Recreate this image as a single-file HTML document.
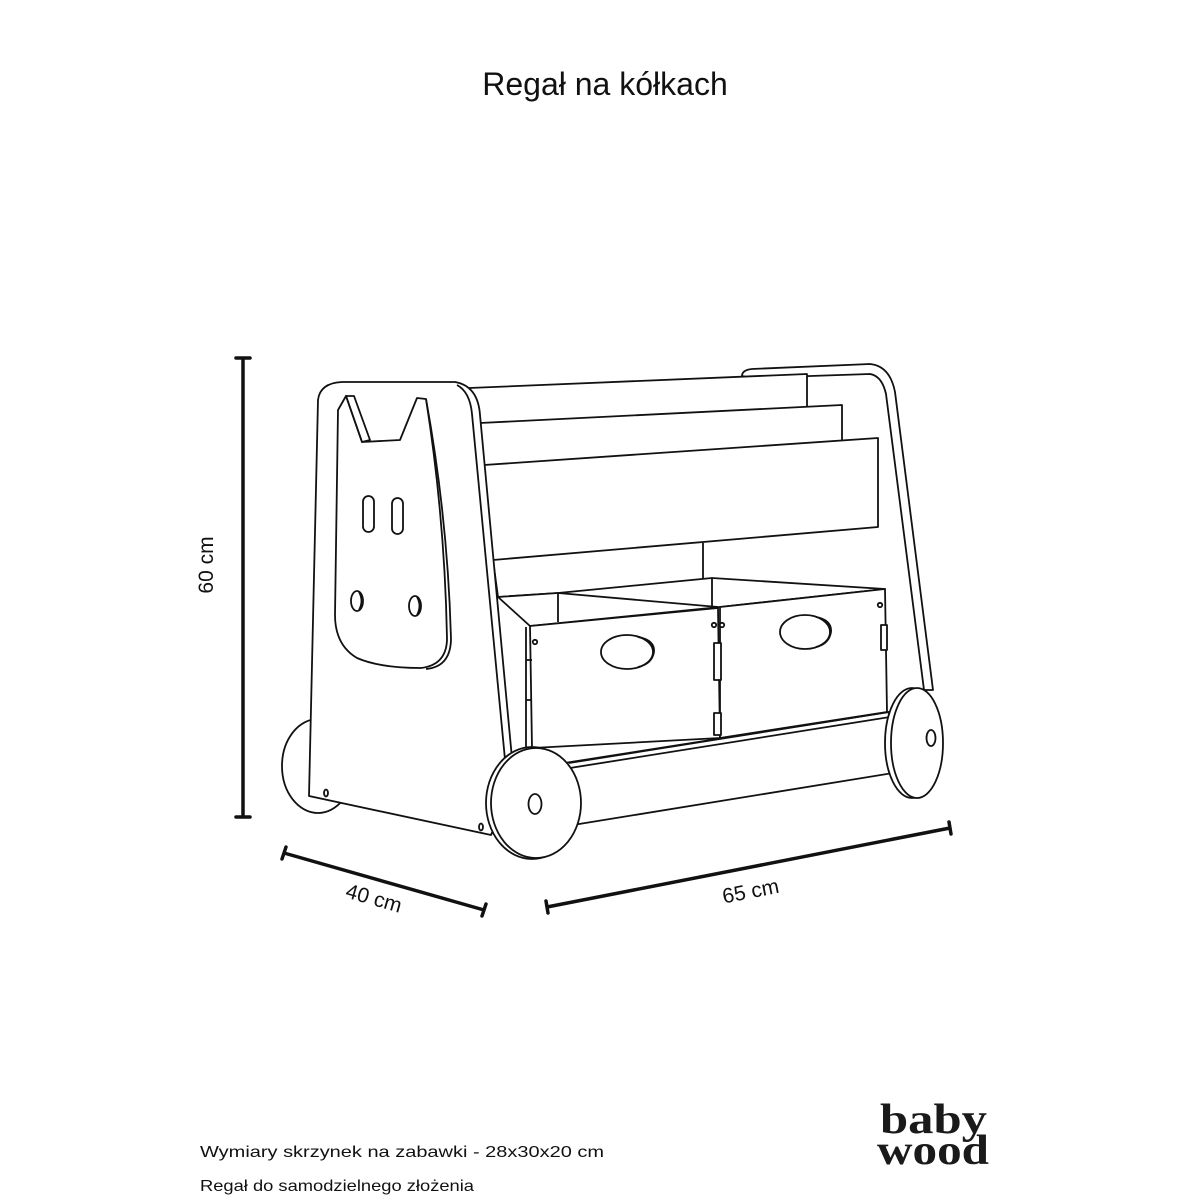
<!DOCTYPE html>
<html><head><meta charset="utf-8"><style>
html,body{margin:0;padding:0;background:#fff;}
svg{display:block;}
</style></head><body>
<svg width="1200" height="1200" viewBox="0 0 1200 1200" xmlns="http://www.w3.org/2000/svg">
<rect width="1200" height="1200" fill="#fff"/>
<text x="605" y="95" text-anchor="middle" font-family="Liberation Sans, sans-serif" font-size="32" fill="#111">Regał na kółkach</text>

<g fill="#fff" stroke="#111" stroke-width="1.8" stroke-linejoin="round">
<!-- back left wheel -->
<ellipse cx="318" cy="766" rx="36" ry="47"/>
<!-- right panel -->
<path d="M742,376 Q742,370 752,369 L870,364 Q890,366 895,392 L933,690 L924,690 L886,394 Q882,376 870,374 L752,378 Z"/>
<!-- shelves -->
<path d="M469,388 L807,374 L807,410 L475,425 Z"/>
<path d="M480,423 L842,405 L842,445 L484,466 Z"/>
<path d="M484,465 L878,438 L878,527 L493,560 Z"/>
<!-- divider back -->
<path d="M703,543 L703,580"/>
<path d="M493,560 L498,597 L558,593"/>
<!-- box tops -->
<path d="M498,597 L558,593 L712,578 L885,589 L720,607 L530,626 Z"/>
<path d="M558,593 L558,622"/>
<path d="M558,593 L718,607"/>
<path d="M712,578 L712,607"/>
<!-- box fronts -->
<path d="M530,626 L718,608 L720,738 L532,748 Z"/>
<path d="M720,607 L885,589 L887,712 L720,738 Z"/>
<ellipse cx="627" cy="652" rx="26" ry="17"/>
<path d="M638,637 Q655,640 654,652 Q652,664 638,667" fill="none"/>
<ellipse cx="805" cy="632" rx="25" ry="17"/>
<path d="M816,617 Q832,620 831,632 Q829,644 816,647" fill="none"/>
<!-- tabs -->
<path d="M526,627 L526,748 L532,748 M526,660 L532,660 M526,700 L532,700" fill="none"/>
<path d="M714,643 L714,680 L721,680 L721,643 Z"/>
<path d="M714,713 L714,735 L721,735 L721,713 Z"/>
<path d="M881,625 L881,650 L887,650 L887,625 Z"/>
<circle cx="535" cy="642" r="2.2"/><circle cx="714" cy="625" r="2.2"/><circle cx="722" cy="625" r="2.2"/><circle cx="880" cy="605" r="2.2"/>
<!-- base rail -->
<path d="M520,770 L889,712 L893,773 L573,825 Z"/>
<path d="M569,763 L889,712 M570,768 L890,717" fill="none"/>
<!-- left panel -->
<path d="M318,400 Q320,383 342,382 L455,382 Q478,386 480,415 L514,780 L491,835 L309,796 Z"/>
<path d="M457,385 Q470,392 472,414 L506,770" fill="none"/>
<!-- cat face -->
<path d="M346,396 L362,442 L400,440 L417,398 L426,399 Q445,520 447,640 Q446,665 421,668 Q380,668 357,658 Q335,645 335,615 L338,410 Z"/>
<path d="M346,396 L354,396 L370,440 L362,442 Z" fill="none"/>
<path d="M426,399 Q448,520 451,640 Q450,667 426,669" fill="none"/>
<rect x="363" y="496" width="11" height="36" rx="5.5"/>
<rect x="392" y="498" width="11" height="36" rx="5.5"/>
<ellipse cx="357" cy="601" rx="6" ry="10"/>
<path d="M359,592 Q364,601 359,610" fill="none"/>
<ellipse cx="415" cy="606" rx="6" ry="10"/>
<path d="M417,597 Q422,606 417,615" fill="none"/>
<ellipse cx="326" cy="793" rx="2" ry="3.5"/>
<ellipse cx="481" cy="827" rx="2" ry="3.5"/>
<!-- front wheel -->
<ellipse cx="532" cy="803" rx="46" ry="56"/>
<ellipse cx="536" cy="803" rx="45" ry="55"/>
<ellipse cx="535" cy="804" rx="6.5" ry="10"/>
<!-- right wheel -->
<ellipse cx="912" cy="743" rx="27" ry="55"/>
<ellipse cx="917" cy="743" rx="26" ry="55"/>
<ellipse cx="931" cy="738" rx="4.5" ry="8"/>
</g>

<!-- dimension lines -->
<g stroke="#111" stroke-width="3.5" fill="none" stroke-linecap="round">
<path d="M243,358 L243,817 M236,358 L250,358 M236,817 L250,817"/>
<path d="M284,853 L484,910 M286,847 L282,859 M486,904 L482,916"/>
<path d="M547,907 L950,828 M546,901 L548,913 M949,822 L951,834"/>
</g>
<g font-family="Liberation Sans, sans-serif" font-size="21" fill="#111">
<text transform="translate(213,565) rotate(-90)" text-anchor="middle">60 cm</text>
<text transform="translate(372,905) rotate(16)" text-anchor="middle">40 cm</text>
<text transform="translate(752,898) rotate(-11)" text-anchor="middle">65 cm</text>
</g>

<g font-family="Liberation Sans, sans-serif" font-size="16" fill="#111">
<text x="200" y="1157" textLength="404" lengthAdjust="spacingAndGlyphs">Wymiary skrzynek na zabawki - 28x30x20 cm</text>
<text x="200" y="1191" textLength="274" lengthAdjust="spacingAndGlyphs">Regał do samodzielnego złożenia</text>
</g>
<g font-family="Liberation Serif, serif" font-weight="bold" font-size="42" fill="#1a1a1a">
<text x="880" y="1133" textLength="107" lengthAdjust="spacingAndGlyphs">baby</text>
<text x="877" y="1164" textLength="112" lengthAdjust="spacingAndGlyphs">wood</text>
</g>
</svg>
</body></html>
